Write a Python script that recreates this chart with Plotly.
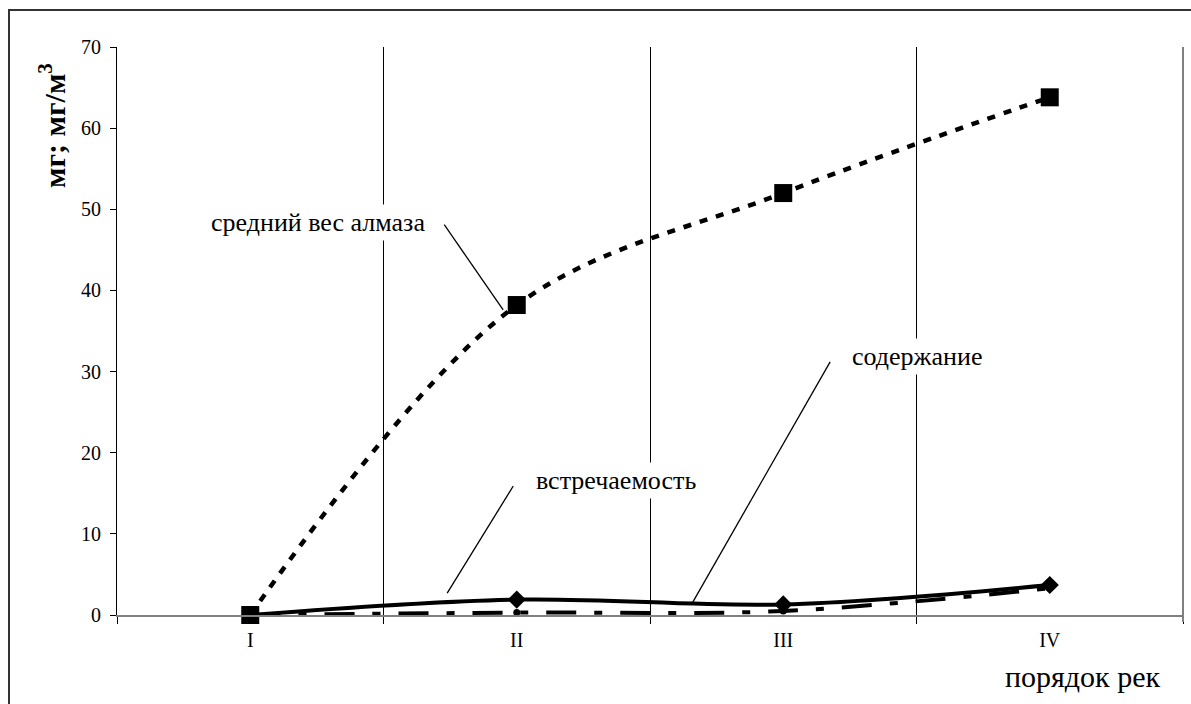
import plotly.graph_objects as go

# River order categories
orders = ["I", "II", "III", "IV"]

# Series values (mg; mg/m3)
avg_weight = [0.0, 38.2, 52.0, 63.8]      # средний вес алмаза
occurrence = [0.0, 1.9, 1.3, 3.7]         # встречаемость
content = [0.0, 0.3, 0.5, 3.3]            # содержание

y_ticks = [0, 10, 20, 30, 40, 50, 60, 70]

FONT = "Liberation Serif"

fig = go.Figure()

fig.add_trace(go.Scatter(
    x=orders, y=content, mode="lines+markers", name="содержание", cliponaxis=False,
    line=dict(color="black", width=4, dash="30px,18px,8px,18px", shape="spline"),
    marker=dict(symbol="circle", size=7, color="black"),
))
fig.add_trace(go.Scatter(
    x=orders, y=occurrence, mode="lines+markers", name="встречаемость", cliponaxis=False,
    line=dict(color="black", width=4, shape="spline"),
    marker=dict(symbol="diamond", size=14, color="black"),
))
fig.add_trace(go.Scatter(
    x=orders, y=avg_weight, mode="lines+markers", name="средний вес алмаза", cliponaxis=False,
    line=dict(color="black", width=4.5, dash="8px,9px", shape="spline"),
    marker=dict(symbol="square", size=18, color="black"),
))

# Leader lines from labels to curves (category index, value)
leaders = [
    (0.728, 48.1, 0.949, 37.6),
    (0.987, 15.9, 0.739, 2.7),
    (2.176, 31.2, 1.659, 1.5),
]
shapes = []
for x0, y0, x1, y1 in leaders:
    shapes.append(dict(type="line", xref="x", yref="y", x0=x0, y0=y0, x1=x1, y1=y1,
                       line=dict(color="black", width=1.3)))

# Outer chart frame
W, L, R = 1191, 117, 8
pw = W - L - R
shapes.append(dict(type="rect", xref="paper", yref="paper",
                   x0=(9 - L) / pw, x1=(1200 - L) / pw,
                   y0=-0.2, y1=1 + 37 / 568,
                   line=dict(color="#333333", width=2), layer="below"))
# Right border of the plotting area
shapes.append(dict(type="line", xref="paper", yref="paper", x0=1, x1=1,
                   y0=-7 / 568, y1=1, line=dict(color="#808080", width=2)))

labels = [
    ("средний вес алмаза", 0.255, 48.4),
    ("встречаемость", 1.373, 16.6),
    ("содержание", 2.503, 31.9),
]
annotations = []
for text, x, y in labels:
    annotations.append(dict(text=text, x=x, y=y, xref="x", yref="y", showarrow=False,
                            xanchor="center", yanchor="middle",
                            bgcolor="white", borderpad=3,
                            font=dict(family=FONT, size=26, color="black")))

annotations.append(dict(text="<b>мг; мг/м<sup>3</sup></b>", textangle=-90,
                        xref="paper", yref="paper", x=(52 - L) / pw, y=1 - (126 - 47) / 568,
                        xanchor="center", yanchor="middle",
                        showarrow=False, font=dict(family=FONT, size=30, color="black")))
annotations.append(dict(text="порядок рек", xref="paper", yref="paper",
                        x=(1083 - L) / pw, y=-(676 - 615) / 568, showarrow=False,
                        xanchor="center", yanchor="middle",
                        font=dict(family=FONT, size=30, color="black")))

fig.update_layout(
    width=1191, height=704,
    margin=dict(l=L, r=R, t=47, b=89),
    paper_bgcolor="white", plot_bgcolor="white",
    showlegend=False,
    font=dict(family=FONT, size=20, color="black"),
    shapes=shapes, annotations=annotations,
    xaxis=dict(
        type="category", categoryorder="array", categoryarray=orders,
        range=[-0.5, 3.5], tickson="boundaries",
        showgrid=True, gridcolor="black", gridwidth=1,
        ticks="outside", ticklen=7, tickcolor="black",
        showline=True, linecolor="#808080", linewidth=2,
        tickfont=dict(family=FONT, size=20), ticklabelstandoff=6,
        zeroline=False, fixedrange=True,
    ),
    yaxis=dict(
        range=[0, 70], tickvals=y_ticks, showgrid=False, zeroline=False,
        ticks="outside", ticklen=6, tickcolor="black",
        showline=True, linecolor="black", linewidth=1,
        tickfont=dict(family=FONT, size=20), ticklabelstandoff=5, fixedrange=True,
    ),
)

fig.write_html("out.html")
